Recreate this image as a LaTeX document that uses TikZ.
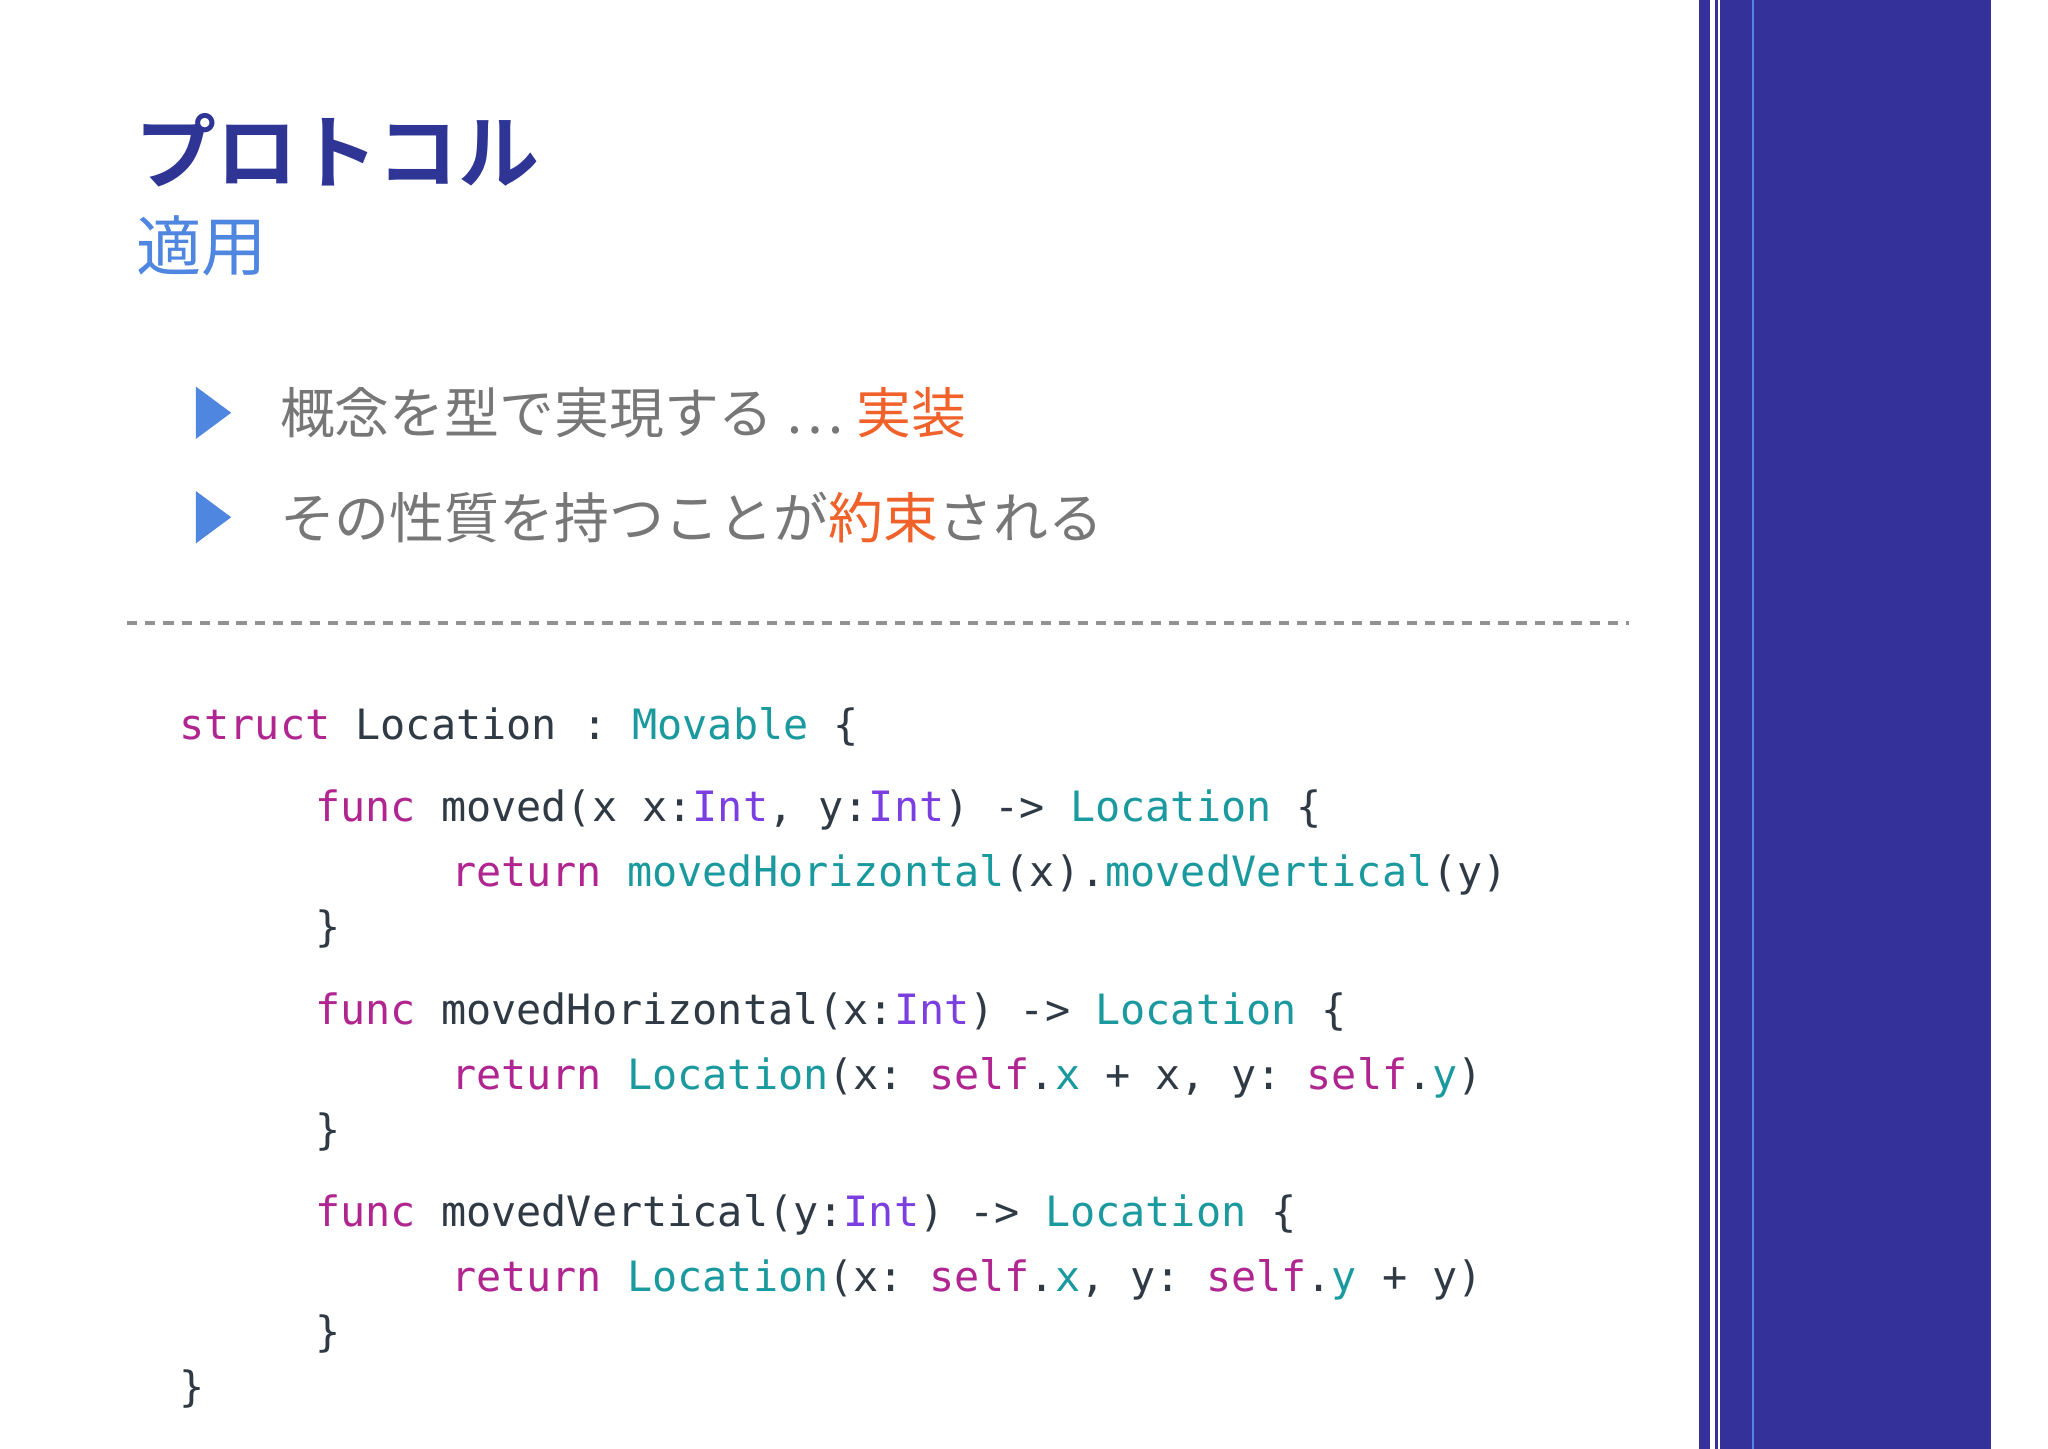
\documentclass[tikz,border=0pt]{standalone}
\usepackage{fontspec}
\newfontfamily\jp{Noto Sans CJK JP}
\newfontfamily\jpb{Noto Sans CJK JP}[BoldFont=* Bold]
\setmonofont{DejaVu Sans Mono}
\definecolor{band}{HTML}{35319A}
\definecolor{ttl}{HTML}{2E3595}
\definecolor{sub}{HTML}{4F86E0}
\definecolor{gry}{HTML}{777777}
\definecolor{org}{HTML}{F0622A}
\definecolor{kw}{HTML}{B0258F}
\definecolor{ty}{HTML}{1A9A9E}
\definecolor{it}{HTML}{7B3EE0}
\definecolor{tx}{HTML}{2F3A45}
\newcommand{\K}[1]{\textcolor{kw}{#1}}
\newcommand{\T}[1]{\textcolor{ty}{#1}}
\newcommand{\I}[1]{\textcolor{it}{#1}}
\begin{document}
\begin{tikzpicture}[x=0.5pt,y=-0.5pt,
  code/.style={anchor=base west,inner sep=0,font=\ttfamily\fontsize{16}{16}\selectfont,text=tx},
  bul/.style={anchor=base west,inner sep=0,font=\jp\fontsize{21}{21}\selectfont,text=gry},
  tri/.style={fill=sub}]
\useasboundingbox (0,0) rectangle (1568,1109);
\fill[white] (0,0) rectangle (1568,1109);
% band
\fill[band] (1301,0) rectangle (1309,1109);
\fill[band] (1313,0) rectangle (1315.5,1109);
\fill[band] (1317,0) rectangle (1524,1109);
\fill[sub] (1341,0) rectangle (1343,1109);
% titles
\node[anchor=base west,inner sep=0,text=ttl,font=\jpb\bfseries\fontsize{31}{31}\selectfont] (title) at (103,140) {プロトコル};
\node[anchor=base west,inner sep=0,text=sub,font=\jp\fontsize{25}{25}\selectfont] (subt) at (104,207) {適用};
% bullets
\fill[tri] (150,296) -- (177,316) -- (150,336) -- cycle;
\fill[tri] (150,376) -- (177,396) -- (150,416) -- cycle;
\node[bul] (b1) at (214,332) {概念を型で実現する … \textcolor{org}{実装}};
\node[bul] (b2) at (214,412) {その性質を持つことが\textcolor{org}{約束}される};
\draw[gry!80,dashed,line width=1.2pt,dash pattern=on 4pt off 3pt] (97,477) -- (1247,477);
% code
\node[code] (c1) at (137,566) {\K{struct} Location : \T{Movable} \{};
\node[code] (c2) at (241,629) {\K{func} moved(x x:\I{Int}, y:\I{Int}) -> \T{Location} \{};
\node[code] (c3) at (345,679) {\K{return} \T{movedHorizontal}(x).\T{movedVertical}(y)};
\node[code] (c4) at (241,721) {\}};
\node[code] (c5) at (241,784) {\K{func} movedHorizontal(x:\I{Int}) -> \T{Location} \{};
\node[code] (c6) at (345,834) {\K{return} \T{Location}(x: \K{self}.\T{x} + x, y: \K{self}.\T{y})};
\node[code] (c7) at (241,876) {\}};
\node[code] (c8) at (241,939) {\K{func} movedVertical(y:\I{Int}) -> \T{Location} \{};
\node[code] (c9) at (345,989) {\K{return} \T{Location}(x: \K{self}.\T{x}, y: \K{self}.\T{y} + y)};
\node[code] (c10) at (241,1031) {\}};
\node[code] (c11) at (137,1073) {\}};
\end{tikzpicture}
\end{document}
